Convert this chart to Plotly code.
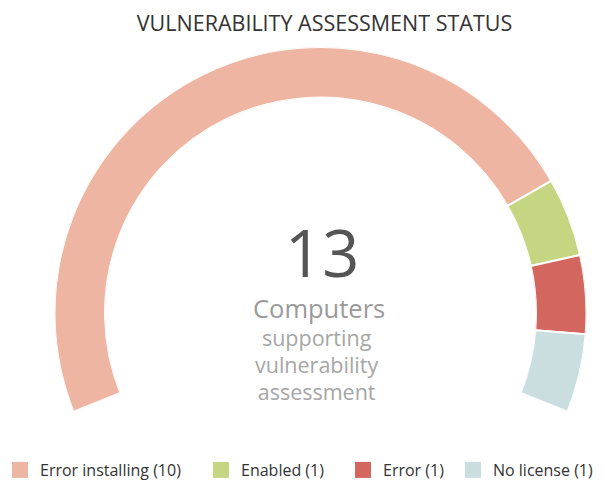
import plotly.graph_objects as go

# ---- data ----
categories = ["Error installing", "Enabled", "Error", "No license"]
values = [10, 1, 1, 1]
colors = ["#EDB5A2", "#C5D683", "#D46660", "#CADEE0"]
total_label = "13"
title_text = "VULNERABILITY ASSESSMENT STATUS"
center_unit = "Computers"
center_sub = ["supporting", "vulnerability", "assessment"]

# ---- geometry ----
PAGE_W, PAGE_H = 606, 484
OFF = 8                      # default body margin of the html page
W, H = PAGE_W - OFF, PAGE_H - OFF
ARC_START = 201.8            # math-angle (deg) where the arc starts (left bottom)
ARC_END = -21.8              # math-angle (deg) where the arc ends (right bottom)
SPAN = ARC_START - ARC_END


def px_x(x):                 # page pixel -> paper fraction
    return (x - OFF) / W


def px_y(y):
    return 1 - (y - OFF) / H


total = sum(values)
scale = SPAN / total
thetas, widths = [], []
cum = 0
for v in values:
    thetas.append((cum + v / 2) * scale)
    widths.append(v * scale)
    cum += v

fig = go.Figure()
for cat, v, th, wd, col in zip(categories, values, thetas, widths, colors):
    fig.add_trace(go.Barpolar(
        r=[1], theta=[th], width=[wd],
        name=f"{cat} ({v})", showlegend=False, legendgroup=cat,
        marker=dict(color=col, line=dict(color="white", width=2)),
        hovertemplate=f"{cat}: {v}<extra></extra>",
    ))

# legend entries (square swatches), one legend per entry for exact placement
legend_names = ["legend", "legend2", "legend3", "legend4"]
legend_text_x = [40, 241, 383, None]   # page px where each legend text starts (last: right aligned)
for cat, v, col, lg in zip(categories, values, colors, legend_names):
    fig.add_trace(go.Scatter(
        x=[None], y=[None], mode="markers", name=f"{cat} ({v})", legendgroup=cat,
        legend=lg,
        marker=dict(symbol="square", size=16, color=col),
        hoverinfo="skip",
    ))

cx, top, R = 320.5, 47, 266
legend_common = dict(orientation="h", yanchor="middle", y=px_y(470),
                     bgcolor="rgba(0,0,0,0)", itemclick=False, itemdoubleclick=False,
                     font=dict(family="Open Sans", size=16, color="#333333"))
layout_legends = {}
for lg, tx in zip(legend_names, legend_text_x):
    if tx is None:
        layout_legends[lg] = dict(x=px_x(598), xanchor="right", **legend_common)
    else:
        layout_legends[lg] = dict(x=px_x(tx - 40), xanchor="left", **legend_common)

fig.update_layout(
    width=W, height=H,
    margin=dict(l=0, r=0, t=0, b=0, autoexpand=False),
    paper_bgcolor="white",
    plot_bgcolor="white",
    font=dict(family="Open Sans", color="#333333"),
    title=dict(text=title_text, x=(324.5 - OFF) / W, y=1 - (23.5 - OFF) / H,
               xanchor="center", yanchor="middle", xref="container", yref="container",
               font=dict(family="Open Sans", size=21.5, color="#333333")),
    xaxis=dict(visible=False),
    yaxis=dict(visible=False),
    polar=dict(
        domain=dict(x=[px_x(cx - R), px_x(cx + R)], y=[px_y(top + R * 1.3714), px_y(top)]),
        sector=[ARC_END, ARC_START],
        hole=0.81,
        bgcolor="rgba(0,0,0,0)",
        radialaxis=dict(visible=False, range=[0, 1]),
        angularaxis=dict(visible=False, rotation=ARC_START, direction="clockwise",
                         showgrid=False, showline=False, ticks=""),
    ),
    showlegend=True,
    **layout_legends,
)

# big total
fig.add_annotation(text=total_label, x=px_x(321.5), y=px_y(252), xref="paper", yref="paper",
                   showarrow=False, xanchor="center", yanchor="middle",
                   font=dict(family="Open Sans", size=65, color="#555555"))
# unit
fig.add_annotation(text=center_unit, x=px_x(319), y=px_y(307.6), xref="paper", yref="paper",
                   showarrow=False, xanchor="center", yanchor="middle",
                   font=dict(family="Open Sans", size=25.5, color="#9a9a9a"))
# description lines
sub_text = "<br>".join(f"<span style='font-size:21.5px'>{s}</span>" for s in center_sub)
fig.add_annotation(text=sub_text, x=px_x(316.5), y=px_y(364), xref="paper", yref="paper",
                   showarrow=False, xanchor="center", yanchor="middle", align="center",
                   font=dict(family="Open Sans", size=20.77, color="#a6a6a6"))

fig.write_html("out.html")
